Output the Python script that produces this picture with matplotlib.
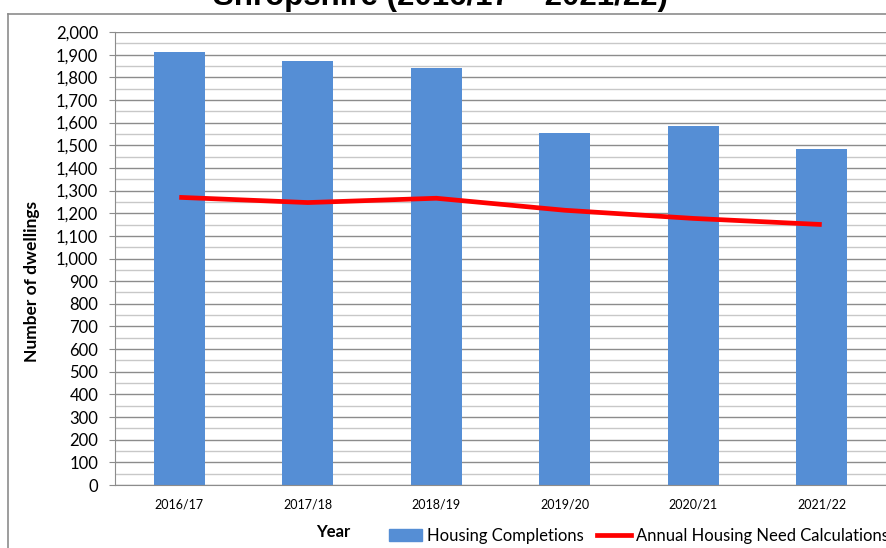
import matplotlib.pyplot as plt
from matplotlib.lines import Line2D
from matplotlib.patches import Patch
import numpy as np

# data
years = ['2016/17', '2017/18', '2018/19', '2019/20', '2020/21', '2021/22']
completions = [1910, 1874, 1842, 1553, 1585, 1482]
need = [1270, 1247, 1266, 1213, 1177, 1150]
y_ticks = list(range(0, 2001, 100))

W, H = 886, 548
fig = plt.figure(figsize=(W / 100, H / 100), dpi=100)
ax = fig.add_axes([115 / W, 1 - 485 / H, (886 - 115) / W, (485 - 32) / H])

x = np.arange(len(years))
ax.bar(x, completions, width=0.40, color='#558ED5', zorder=2)
ax.plot(x, need, color='#FF0000', lw=3.4, zorder=3, solid_capstyle='butt')

ax.set_xlim(-0.5, len(years) - 0.5)
ax.set_ylim(0, 2000)
ax.set_yticks(y_ticks)
ax.set_yticklabels([f'{v:,}' for v in y_ticks], family='Lato', fontsize=12)
ax.set_yticks(np.arange(50, 2000, 100), minor=True)
ax.set_xticks(x)
ax.set_xticklabels(years, family='Lato', fontsize=9)

ax.grid(axis='y', which='major', color='#8C8C8C', lw=1.0, zorder=0)
ax.grid(axis='y', which='minor', color='#C8C8C8', lw=1.0, zorder=0)
ax.tick_params(axis='y', which='major', length=4, color='#8C8C8C', pad=8)
ax.tick_params(axis='y', which='minor', length=0)
ax.tick_params(axis='x', length=0, pad=10)
for s in ['top', 'right']:
    ax.spines[s].set_visible(False)
for s in ['left', 'bottom']:
    ax.spines[s].set_color('#8C8C8C')

ax.set_ylabel('Number of dwellings', family='Lato', fontweight='bold', fontsize=12.5)
ax.yaxis.set_label_coords(-(115 - 40) / (886 - 115), 0.45)

# chart frame (top and left edges visible)
fig.add_artist(Line2D([8 / W, 1], [1 - 14 / H] * 2, color='#8C8C8C', lw=1.2))
fig.add_artist(Line2D([8 / W] * 2, [0, 1 - 14 / H], color='#8C8C8C', lw=1.2))

# title, mostly cut off at the top
fig.text(440 / W, 1 - 5 / H, 'Shropshire (2016/17 \u2013 2021/22)', ha='center',
         va='baseline', family='Liberation Sans', fontweight='bold', fontsize=22.5)

fig.text(333 / W, 1 - 532 / H, 'Year', ha='center', va='center',
         family='Lato', fontweight='bold', fontsize=12)

handles = [Patch(color='#558ED5'), Line2D([], [], color='#FF0000', lw=3.4)]
fig.legend(handles, ['Housing Completions', 'Annual Housing Need Calculations'],
           loc='center left', bbox_to_anchor=(389 / W, 1 - 536 / H), ncol=2,
           frameon=False, prop={'family': 'Lato', 'size': 12},
           handlelength=2.0, handleheight=0.7, handletextpad=0.3, columnspacing=0.8,
           borderaxespad=0, borderpad=0)

fig.savefig('out.png', dpi=100)
